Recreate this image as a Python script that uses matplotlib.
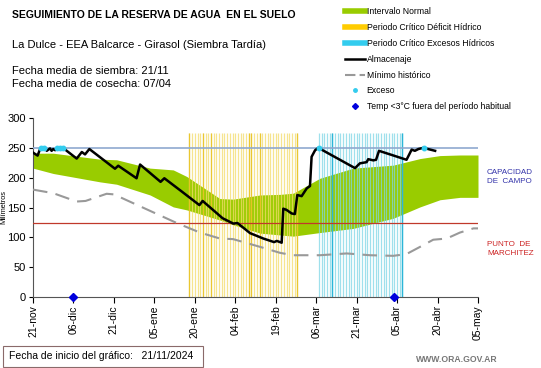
import numpy as np
import matplotlib
matplotlib.use("Agg")
import matplotlib.pyplot as plt
from matplotlib.lines import Line2D
from matplotlib.patches import Rectangle

plt.rcParams["font.family"] = ["Liberation Sans", "DejaVu Sans"]

# ── Data (days since 21-nov, millimetres) ──────────────────
tick_days   = [0, 15, 30, 45, 60, 75, 90, 105, 120, 135, 150, 165]
tick_labels = ["21-nov", "06-dic", "21-dic", "05-ene", "20-ene", "04-feb",
               "19-feb", "06-mar", "21-mar", "05-abr", "20-abr", "05-may"]

band_days  = [0, 7.5, 24.8, 31, 43.4, 52, 57, 69.3, 74.2, 84.2, 91.6, 96.5,
              106.4, 118.8, 133.6, 143.5, 150.9, 158.3, 165]
band_upper = [241, 241, 231, 230, 216, 213, 202, 165, 164, 171, 172, 174,
              199, 216, 221, 232, 237, 238, 238]
band_lower = [216, 207, 193, 189, 171, 151, 146, 129, 121, 107, 104, 102,
              108, 115, 132, 151, 163, 167, 167]

min_days = [0, 7.5, 16.2, 19.5, 27.3, 30, 39.7, 53.3, 61.9, 69.3, 74.2,
            84.2, 91.6, 96.5, 106.4, 116.3, 125, 133.6, 138.5, 143.5,
            148.4, 153.4, 158.3, 163.3, 165]
min_vals = [180, 174, 160, 161, 173, 172, 152, 124, 108, 98, 97,
            84, 74, 70, 70, 73, 70, 69, 72, 84,
            96, 98, 108, 115, 115]

alm_days = [0, 1.7, 2.8, 4.4, 5.1, 6.3, 6.9, 7.5, 8.2, 8.8, 11.2, 12.5,
            16.2, 18.1, 19.3, 20.9, 30.4, 31.6, 38.4, 39.7, 47.3, 48.7,
            55.1, 61.7, 62.9, 70.3, 74.3, 75.8, 80.5, 85.4, 89.4, 90.4,
            91, 92.2, 92.8, 94, 95.9, 97.1, 98, 99.6, 101.5, 102.7, 103.3,
            104.6, 105.8, 119.4, 121.2, 123.7, 124.3, 126.2, 127.2, 128.3,
            138.5, 140.4, 141.6, 142.9, 144.7, 149.1]
alm_vals = [242, 237, 250, 250, 245, 249, 245, 248, 246, 250, 250, 245,
            232, 243, 239, 248, 215, 220, 199, 222, 193, 199,
            177, 154, 161, 132, 123, 124, 107, 98, 92, 94,
            93, 91, 148, 146, 140, 139, 171, 169, 182, 186, 235,
            246, 250, 216, 224, 226, 231, 229, 230, 245,
            230, 247, 245, 248, 250, 245]

exceso_days = [3, 4, 9, 10, 11, 106, 145]
exceso_vals = [250, 250, 250, 250, 250, 250, 250]

frost_days = [15, 134]
frost_vals = [0, 0]

deficit_period = (58, 98)
excess_period  = (106, 137)
period_top     = 275

capacidad_campo = 250
punto_marchitez = 124

# ── Figure ─────────────────────────────────────────────────
fig = plt.figure(figsize=(5.41, 3.68), dpi=100)
ax = fig.add_axes([33 / 541, 1 - 297 / 368, 445 / 541, 179 / 368])

green = "#99cc00"
ax.fill_between(band_days, band_lower, band_upper, color=green, lw=0, zorder=1)

# critical periods: one thin bar per day
d_days = np.arange(deficit_period[0], deficit_period[1] + 1)
ax.vlines(d_days, 0, period_top, color="#f3dc6a", lw=0.9, alpha=0.75, zorder=2)
ax.vlines([deficit_period[0], 63, 66, 80, 81, 84, deficit_period[1]], 0, period_top,
          color="#e8c01a", lw=0.9, alpha=0.8, zorder=2)
e_days = np.arange(excess_period[0], excess_period[1] + 1)
ax.vlines(e_days, 0, period_top, color="#7fd6e6", lw=0.9, alpha=0.75, zorder=2)
ax.vlines([111, excess_period[1]], 0, period_top, color="#2bb5d8", lw=1.0, zorder=2)

ax.axhline(capacidad_campo, color="#8fa9cf", lw=1.2, zorder=3)
ax.axhline(punto_marchitez, color="#c0392b", lw=0.9, zorder=3)

ax.plot(min_days, min_vals, color="#999999", lw=1.5, dashes=(7, 4), zorder=4)
ax.plot(alm_days, alm_vals, color="black", lw=1.8, zorder=5)
ax.plot(exceso_days, exceso_vals, ls="none", marker="o", ms=3.2,
        color="#33ccee", zorder=6)
ax.plot(frost_days, frost_vals, ls="none", marker="D", ms=4.5,
        color="#0000dd", zorder=7, clip_on=False)

ax.set_xlim(0, 165)
ax.set_ylim(0, 300)
ax.set_xticks(tick_days)
ax.set_xticklabels(tick_labels, rotation=90, fontsize=7.5)
ax.set_yticks(range(0, 301, 50))
ax.tick_params(axis="y", labelsize=8, length=3, direction="out", pad=2)
ax.tick_params(axis="x", length=4, direction="out", pad=2)
for s in ["top", "right"]:
    ax.spines[s].set_visible(False)
for s in ["left", "bottom"]:
    ax.spines[s].set_color("#555555")
ax.set_ylabel("Milímetros", fontsize=5.3)
ax.yaxis.set_label_coords(-0.058, 0.5)

# ── Texts ──────────────────────────────────────────────────
fig.text(12 / 541, 1 - 15 / 368, "SEGUIMIENTO DE LA RESERVA DE AGUA  EN EL SUELO",
         fontsize=7.5, fontweight="bold", va="center")
fig.text(12 / 541, 1 - 45 / 368, "La Dulce - EEA Balcarce - Girasol (Siembra Tardía)",
         fontsize=8, va="center")
fig.text(12 / 541, 1 - 71 / 368, "Fecha media de siembra: 21/11",
         fontsize=8, va="center")
fig.text(12 / 541, 1 - 84 / 368, "Fecha media de cosecha: 07/04",
         fontsize=8, va="center")

fig.text(487 / 541, 1 - 177 / 368, "CAPACIDAD\nDE  CAMPO", fontsize=5.8,
         color="#3333aa", va="center", linespacing=1.3)
fig.text(487 / 541, 1 - 249 / 368, "PUNTO  DE\nMARCHITEZ", fontsize=5.8,
         color="#cc2222", va="center", linespacing=1.3)

fig.patches.append(Rectangle((3 / 541, 1 - 367 / 368), 200 / 541, 21 / 368,
                             transform=fig.transFigure, fill=False,
                             edgecolor="#8a6a6a", lw=0.8))
fig.text(9 / 541, 1 - 356 / 368, "Fecha de inicio del gráfico:   21/11/2024",
         fontsize=7.5, va="center")
fig.text(498 / 541, 1 - 360 / 368, "WWW.ORA.GOV.AR", fontsize=6.2,
         color="#777777", fontweight="bold", ha="right", va="center")

handles = [
    Line2D([], [], color=green, lw=4),
    Line2D([], [], color="#ffcc00", lw=4),
    Line2D([], [], color="#33ccee", lw=4),
    Line2D([], [], color="black", lw=1.8),
    Line2D([], [], color="#999999", lw=1.5, dashes=(5, 2)),
    Line2D([], [], ls="none", marker="o", ms=2.5, color="#33ccee"),
    Line2D([], [], ls="none", marker="D", ms=3, color="#0000dd"),
]
labels = ["Intervalo Normal", "Periodo Crítico Déficit Hídrico",
          "Periodo Crítico Excesos Hídricos", "Almacenaje", "Mínimo histórico",
          "Exceso", "Temp <3°C fuera del período habitual"]
fig.legend(handles, labels, loc="upper left",
           bbox_to_anchor=(345 / 541, 1 - 7 / 368), frameon=False,
           fontsize=6.2, handlelength=2.3, labelspacing=0.8,
           handletextpad=0.2, borderaxespad=0, borderpad=0)

fig.savefig("out.png", dpi=100)
